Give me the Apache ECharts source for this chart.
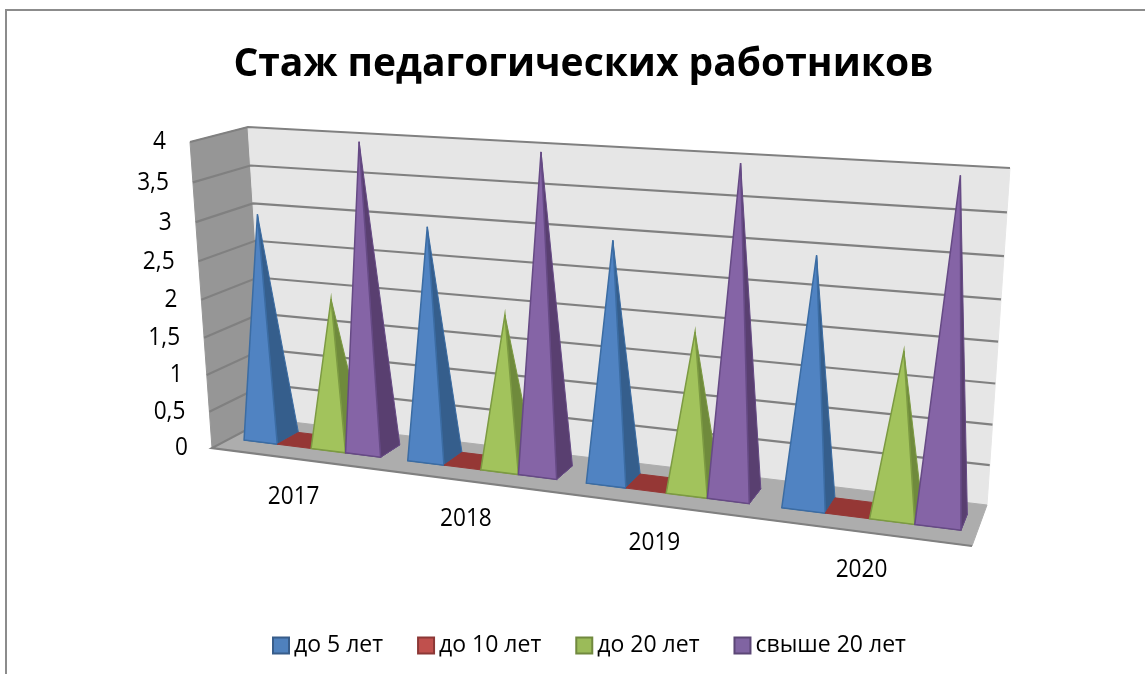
<!DOCTYPE html>
<html>
<head>
<meta charset="utf-8">
<style>
  html, body { margin: 0; padding: 0; background: #fff; }
  #chart { width: 1145px; height: 674px; }
</style>
<script src="https://cdn.jsdelivr.net/npm/echarts@6/dist/echarts.min.js"></script>
</head>
<body>
<div id="chart"></div>
<script>
const chartTitle = 'Стаж педагогических работников';
const years = ['2017', '2018', '2019', '2020'];
const upTo5 = [3, 3, 3, 3];
const upTo10 = [0, 0, 0, 0];
const upTo20 = [1.97, 1.97, 1.97, 1.97];
const over20 = [4, 4, 4, 4];
const yTicks = [0, 0.5, 1, 1.5, 2, 2.5, 3, 3.5, 4];
const yTickLabels = ['0', '0,5', '1', '1,5', '2', '2,5', '3', '3,5', '4'];

const font = '"Open Sans", "Noto Sans", sans-serif';

// flat grid that the axes scale into, then it gets projected onto the 3d box
const GRID = { left: 100, top: 100, width: 800, height: 400 };

// box corners on screen: floor and top plane
const FLOOR = [[212, 448], [972, 546], [987, 505], [267, 419]];
const TOP = [[190, 142], [992, 189], [1010, 168], [248, 127]];
const PERSP = 0.06; // vertical foreshortening
const DEPTH_FRONT = 0.32, DEPTH_BACK = 0.72, APEX_DEPTH = 0.52;
const GROUP_WIDTH = 0.84, GROUP_SHIFT = 0.002;

function quadMap(q) {
  const dx1 = q[1][0] - q[2][0], dx2 = q[3][0] - q[2][0], sx = q[0][0] - q[1][0] + q[2][0] - q[3][0];
  const dy1 = q[1][1] - q[2][1], dy2 = q[3][1] - q[2][1], sy = q[0][1] - q[1][1] + q[2][1] - q[3][1];
  const den = dx1 * dy2 - dx2 * dy1;
  const g = (sx * dy2 - dx2 * sy) / den;
  const h = (dx1 * sy - sx * dy1) / den;
  return function (u, v) {
    const w = 1 + g * u + h * v;
    return [
      (q[0][0] + (q[1][0] * (1 + g) - q[0][0]) * u + (q[3][0] * (1 + h) - q[0][0]) * v) / w,
      (q[0][1] + (q[1][1] * (1 + g) - q[0][1]) * u + (q[3][1] * (1 + h) - q[0][1]) * v) / w
    ];
  };
}
const floorMap = quadMap(FLOOR);
const topMap = quadMap(TOP);

function project(u, v, h) {
  const a = floorMap(u, v), b = topMap(u, v);
  const t = h * (1 - PERSP) / (1 - PERSP * h);
  return [a[0] + (b[0] - a[0]) * t, a[1] + (b[1] - a[1]) * t];
}
const toU = (x) => (x - GRID.left) / GRID.width;
const toH = (y) => (GRID.top + GRID.height - y) / GRID.height;

function poly(points, fill, stroke, lineWidth) {
  return { type: 'polygon', shape: { points: points }, style: { fill: fill, stroke: stroke || fill, lineWidth: lineWidth || 1 } };
}
// the reference text is a bit squeezed, so scale it horizontally
function label(text, x, y, align) {
  return {
    type: 'text', x: x, y: y, scaleX: 0.87,
    style: { text: text, x: 0, y: 0, align: align, verticalAlign: 'middle', fill: '#000', font: '26px ' + font }
  };
}

// walls, floor, gridlines, tick and category labels
function renderFrame(params, api) {
  const kids = [
    poly([project(0, 0, 0), project(0, 1, 0), project(0, 1, 1), project(0, 0, 1)], '#969696'),
    poly([project(0, 1, 0), project(1, 1, 0), project(1, 1, 1), project(0, 1, 1)], '#e6e6e6'),
    poly([project(0, 0, 0), project(1, 0, 0), project(1, 1, 0), project(0, 1, 0)], '#adadad')
  ];
  yTicks.forEach((t, i) => {
    const h = toH(api.coord([0, t])[1]);
    if (t > 0) {
      kids.push({
        type: 'polyline',
        shape: { points: [project(0, 0, h), project(0, 1, h), project(1, 1, h)] },
        style: { stroke: '#808080', lineWidth: 2.2, fill: null }
      });
    }
    const p = project(0, 0, h);
    kids.push(label(yTickLabels[i], p[0] - 24, p[1], 'right'));
  });
  kids.push({
    type: 'polyline',
    shape: { points: [project(0, 1, 0), project(0, 0, 0), project(1, 0, 0)] },
    style: { stroke: '#808080', lineWidth: 2.2, fill: null }
  });
  years.forEach((y, i) => {
    const p = project(toU(api.coord([i, 0])[0]), 0, 0);
    kids.push(label(y, p[0] + 1, p[1] + 38, 'center'));
  });
  return { type: 'group', children: kids };
}

function pyramidRenderer(seriesIndex, front, side, edge) {
  return function (params, api) {
    const pos = api.coord([api.value(0), api.value(1)]);
    const band = api.size([1, 0])[0] / GRID.width;
    const w = band * GROUP_WIDTH / 4;
    const u0 = toU(pos[0]) + GROUP_SHIFT - band * GROUP_WIDTH / 2 + w * seriesIndex;
    const u1 = u0 + w;
    const h = toH(pos[1]);
    const fl = project(u0, DEPTH_FRONT, 0), fr = project(u1, DEPTH_FRONT, 0);
    const br = project(u1, DEPTH_BACK, 0), bl = project(u0, DEPTH_BACK, 0);
    const apex = project((u0 + u1) / 2, APEX_DEPTH, h);
    const kids = [poly([fl, fr, br, bl], side)];
    if (h > 0) {
      kids.push(poly([fr, br, apex], side, edge));
      kids.push(poly([fl, fr, apex], front, edge, 1.5));
    }
    return { type: 'group', children: kids };
  };
}

const pyramidSeries = [
  { name: 'до 5 лет', values: upTo5, color: '#4f81bd', border: '#385d8a', front: '#5083c2', side: '#355e8c', edge: '#3b6ca3' },
  { name: 'до 10 лет', values: upTo10, color: '#c0504d', border: '#8c3836', front: '#953735', side: '#953735', edge: '#953735' },
  { name: 'до 20 лет', values: upTo20, color: '#9bbb59', border: '#71893f', front: '#a2c35c', side: '#6f8a3c', edge: '#7c9a42' },
  { name: 'свыше 20 лет', values: over20, color: '#8064a2', border: '#5c4776', front: '#8564a6', side: '#593f70', edge: '#664a85' }
];

const chart = echarts.init(document.getElementById('chart'));
chart.setOption({
  animation: false,
  title: {
    text: chartTitle, left: 578.5, top: 40, textAlign: 'center',
    textStyle: { fontFamily: font, fontSize: 39, fontWeight: 'bold', color: '#000' }
  },
  legend: {
    left: 267, top: 629, itemWidth: 16, itemHeight: 16, itemGap: 34, icon: 'rect',
    data: pyramidSeries.map((s) => s.name),
    textStyle: { fontFamily: font, fontSize: 23, color: '#000' }
  },
  grid: GRID,
  xAxis: { type: 'category', data: years, show: false },
  yAxis: { type: 'value', min: 0, max: 4, interval: 0.5, show: false },
  graphic: [
    { type: 'polyline', silent: true, shape: { points: [[6, 674], [6, 10], [1145, 10]] }, style: { stroke: '#8c8c8c', lineWidth: 2, fill: null } }
  ],
  series: [
    { type: 'custom', name: 'frame', silent: true, clip: false, data: [[0, 0]], renderItem: renderFrame, z: 1 }
  ].concat(pyramidSeries.map((s, i) => ({
    type: 'custom',
    name: s.name,
    clip: false,
    z: 2 + i,
    itemStyle: { color: s.color, borderColor: s.border, borderWidth: 1.5 },
    data: s.values.map((v, k) => [k, v]),
    encode: { x: 0, y: 1 },
    renderItem: pyramidRenderer(i, s.front, s.side, s.edge)
  })))
});
</script>
</body>
</html>
